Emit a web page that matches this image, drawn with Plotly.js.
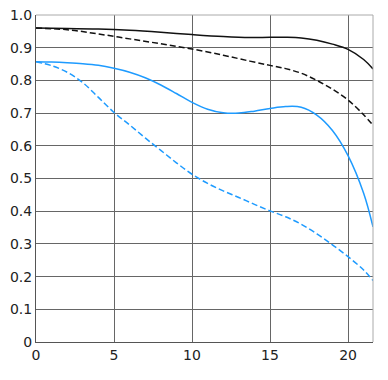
<!DOCTYPE html>
<html><head><meta charset="utf-8">
<script src="https://cdn.plot.ly/plotly-3.0.1.min.js"></script>
<style>body{margin:0;background:#fff}#c{width:388px;height:380px}</style>
</head><body><div id="c"></div>
<script>
const xs = [0, 2, 4, 6, 8, 10, 12, 13.7, 15, 16, 17, 18, 19, 20, 21, 21.6];
const sagBlack = [0.960, 0.959, 0.957, 0.953, 0.947, 0.940, 0.934, 0.931, 0.932, 0.932, 0.930, 0.923, 0.911, 0.895, 0.864, 0.835];
const tanBlack = [0.960, 0.955, 0.942, 0.927, 0.912, 0.896, 0.877, 0.859, 0.846, 0.836, 0.822, 0.800, 0.773, 0.740, 0.695, 0.663];
const xsB = [0, 1, 2, 3, 4, 5, 6, 7, 8, 9, 10, 11, 12, 13, 14, 15, 16, 17, 18, 19, 20, 21, 21.6];
const sagBlue = [0.857, 0.856, 0.854, 0.851, 0.846, 0.837, 0.825, 0.808, 0.786, 0.760, 0.733, 0.712, 0.701, 0.700, 0.706, 0.714, 0.720, 0.718, 0.694, 0.647, 0.570, 0.455, 0.352];
const tanBlue = [0.857, 0.845, 0.825, 0.793, 0.748, 0.702, 0.664, 0.624, 0.586, 0.548, 0.513, 0.485, 0.462, 0.442, 0.421, 0.401, 0.383, 0.360, 0.331, 0.297, 0.261, 0.220, 0.188];
const xTicks = [0, 5, 10, 15, 20];
const yTicks = [0, 0.1, 0.2, 0.3, 0.4, 0.5, 0.6, 0.7, 0.8, 0.9, 1.0];
const yLabels = ["0", "0.1", "0.2", "0.3", "0.4", "0.5", "0.6", "0.7", "0.8", "0.9", "1.0"];

const traces = [
  {x: xs, y: sagBlack, mode: 'lines', line: {color: '#111', width: 1.5, shape: 'spline'}},
  {x: xs, y: tanBlack, mode: 'lines', line: {color: '#111', width: 1.5, dash: '6px,3px', shape: 'spline'}},
  {x: xsB, y: sagBlue, mode: 'lines', line: {color: '#1e9bff', width: 1.5, shape: 'spline'}},
  {x: xsB, y: tanBlue, mode: 'lines', line: {color: '#1e9bff', width: 1.5, dash: '6px,3px', shape: 'spline'}}
];
const layout = {
  width: 388, height: 380,
  margin: {l: 36, r: 15, t: 15, b: 38},
  showlegend: false,
  paper_bgcolor: '#fff', plot_bgcolor: '#fff',
  font: {family: 'DejaVu Sans, sans-serif', size: 14, color: '#222'},
  xaxis: {range: [0, 21.6], tickvals: xTicks, ticktext: xTicks.map(String),
    showgrid: true, gridcolor: '#666', gridwidth: 1, zeroline: false,
    showline: true, linecolor: '#555', mirror: false, ticks: '', fixedrange: true},
  yaxis: {range: [0, 1.0], tickvals: yTicks, ticktext: yLabels,
    showgrid: true, gridcolor: '#666', gridwidth: 1, zeroline: false,
    showline: true, linecolor: '#555', ticks: '', fixedrange: true},
  shapes: [
    {type: 'line', xref: 'paper', yref: 'paper', x0: 0, x1: 1, y0: 1, y1: 1, line: {color: '#aaa', width: 1}},
    {type: 'line', xref: 'paper', yref: 'paper', x0: 1, x1: 1, y0: 0, y1: 1, line: {color: '#aaa', width: 1}}
  ]
};
Plotly.newPlot('c', traces, layout, {staticPlot: true});
</script></body></html>
